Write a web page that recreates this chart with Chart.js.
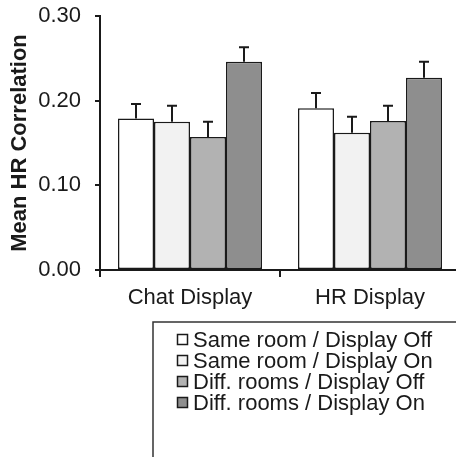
<!DOCTYPE html>
<html>
<head>
<meta charset="utf-8">
<script src="https://cdn.jsdelivr.net/npm/chart.js@4/dist/chart.umd.min.js"></script>
<style>
  html, body { margin: 0; padding: 0; background: #fff; overflow: hidden; }
  #wrap { width: 462px; height: 457px; }
</style>
</head>
<body>
<div id="wrap"><canvas id="c" width="462" height="457"></canvas></div>
<script>
// Display conditions along the x axis
const categories = ['Chat Display', 'HR Display'];

// Room / display groups
const seriesNames = [
  'Same room / Display Off',
  'Same room / Display On',
  'Diff. rooms / Display Off',
  'Diff. rooms / Display On'
];
const seriesColors = ['#ffffff', '#f2f2f2', '#b2b2b2', '#8e8e8e'];

// Mean HR correlation per group (one value per display condition)
const sameRoomOff = [0.179, 0.191];
const sameRoomOn  = [0.175, 0.162];
const diffRoomOff = [0.157, 0.176];
const diffRoomOn  = [0.246, 0.227];

// Standard error for each bar
const sameRoomOffErr = [0.017, 0.018];
const sameRoomOnErr  = [0.019, 0.019];
const diffRoomOffErr = [0.018, 0.018];
const diffRoomOnErr  = [0.017, 0.019];

// Y axis ticks
const yTicks = [0.00, 0.10, 0.20, 0.30];

const seriesValues = [sameRoomOff, sameRoomOn, diffRoomOff, diffRoomOn];
const seriesErrors = [sameRoomOffErr, sameRoomOnErr, diffRoomOffErr, diffRoomOnErr];

const INK = '#1a1a1a';
const FONT = "'Liberation Sans', Arial, Helvetica, sans-serif";

// Error bars: vertical whisker from the bar top up to value + error, with a cap
const errorBars = {
  id: 'errorBars',
  afterDatasetsDraw(chart) {
    const ctx = chart.ctx;
    const y = chart.scales.y;
    ctx.save();
    ctx.strokeStyle = INK;
    ctx.lineWidth = 2;
    chart.data.datasets.forEach((ds, di) => {
      const meta = chart.getDatasetMeta(di);
      meta.data.forEach((bar, i) => {
        const top = y.getPixelForValue(ds.data[i] + ds.errors[i]);
        const base = y.getPixelForValue(ds.data[i]);
        ctx.beginPath();
        ctx.moveTo(bar.x, base);
        ctx.lineTo(bar.x, top);
        ctx.moveTo(bar.x - 5, top);
        ctx.lineTo(bar.x + 5, top);
        ctx.stroke();
      });
    });
    ctx.restore();
  }
};

// Boxed legend below the plot, one entry per line
const boxLegend = {
  id: 'boxLegend',
  afterDraw(chart) {
    const ctx = chart.ctx;
    const left = 153, top = 322;
    ctx.save();
    ctx.strokeStyle = '#333';
    ctx.lineWidth = 1.5;
    ctx.strokeRect(left, top, 400, 200);
    ctx.font = '22px ' + FONT;
    ctx.textBaseline = 'middle';
    ctx.textAlign = 'left';
    chart.data.datasets.forEach((ds, i) => {
      const cy = 339.5 + i * 21;
      ctx.fillStyle = ds.backgroundColor;
      ctx.fillRect(177.5, cy - 5, 10, 10);
      ctx.strokeStyle = INK;
      ctx.lineWidth = 1.5;
      ctx.strokeRect(177.5, cy - 5, 10, 10);
      ctx.fillStyle = INK;
      ctx.fillText(ds.label, 193, cy + 1);
    });
    ctx.restore();
  }
};

const datasets = seriesNames.map((name, i) => ({
  label: name,
  data: seriesValues[i],
  errors: seriesErrors[i],
  backgroundColor: seriesColors[i],
  borderColor: INK,
  borderWidth: 1.5,
  borderSkipped: false,
  categoryPercentage: 0.8,
  barPercentage: 1.0
}));

new Chart(document.getElementById('c'), {
  type: 'bar',
  data: { labels: categories, datasets },
  plugins: [errorBars, boxLegend],
  options: {
    responsive: false,
    animation: false,
    devicePixelRatio: 1,
    layout: { padding: { top: 16, right: 2, left: 0, bottom: 0 } },
    plugins: {
      legend: { display: false },
      tooltip: { enabled: false }
    },
    scales: {
      x: {
        offset: true,
        afterFit(scale) {
          scale.height = 187;
          scale.paddingLeft = 0;
          scale.paddingRight = 0;
        },
        border: { color: INK, width: 2 },
        grid: { offset: true, drawOnChartArea: false, drawTicks: true, tickLength: 7, color: INK, lineWidth: 2 },
        ticks: { color: INK, font: { family: FONT, size: 22 }, padding: 8 }
      },
      y: {
        min: 0,
        max: 0.3,
        afterFit(scale) {
          scale.width = 100;
          scale.paddingTop = 0;
          scale.paddingBottom = 0;
        },
        afterBuildTicks(scale) { scale.ticks = yTicks.map(v => ({ value: v })); },
        border: { color: INK, width: 2 },
        grid: { drawOnChartArea: false, drawTicks: true, tickLength: 5, color: INK, lineWidth: 2 },
        ticks: {
          color: INK,
          font: { family: FONT, size: 22 },
          padding: 14,
          callback: v => Number(v).toFixed(2)
        },
        title: {
          display: true,
          text: 'Mean HR Correlation',
          color: INK,
          font: { family: FONT, size: 22, weight: 'bold' },
          padding: { top: 7, bottom: 0 }
        }
      }
    }
  }
});
</script>
</body>
</html>
